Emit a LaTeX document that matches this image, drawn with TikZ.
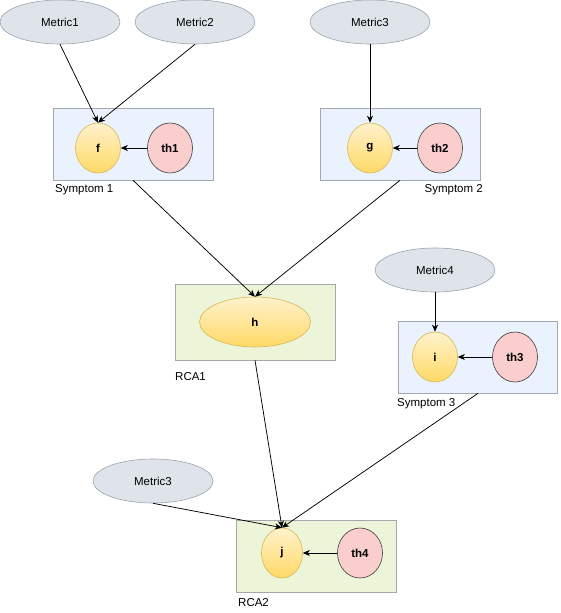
\documentclass[tikz,border=0pt]{standalone}
\usepackage{fontspec}
\setmainfont{Liberation Sans}
\usetikzlibrary{
    arrows.meta,
    shapes,
}
\definecolor{metricfill}{HTML}{DEE4EA}
\definecolor{metricdraw}{HTML}{9AA4AE}
\definecolor{symfill}{HTML}{EAF3FD}
\definecolor{rcafill}{HTML}{ECF5D8}
\definecolor{groupdraw}{HTML}{A2A8AE}
\definecolor{fntop}{HTML}{FFF2CC}
\definecolor{fnbot}{HTML}{FFD966}
\definecolor{fndraw}{HTML}{D6B656}
\definecolor{thfill}{HTML}{F9CECC}
\definecolor{thdraw}{HTML}{3A3A3A}

\begin{document}
\begin{tikzpicture}[
        x=1pt, y=-1pt,
        >={Stealth[length=7pt, width=6pt, inset=2pt]},
        font=\fontsize{11.5}{13}\selectfont,
        metric/.style={ellipse, draw=metricdraw, fill=metricfill, line width=0.6pt, minimum width=120pt, minimum height=44pt, inner sep=0pt},
        symgroup/.style={rectangle, draw=groupdraw, fill=symfill, line width=0.6pt, minimum width=160pt, minimum height=72pt},
        rcagroup/.style={rectangle, draw=groupdraw, fill=rcafill, line width=0.6pt, minimum width=160pt, minimum height=72pt},
        func/.style={ellipse, draw=fndraw, top color=fntop, bottom color=fnbot, line width=0.6pt, minimum width=45pt, minimum height=50pt, inner sep=0pt, font=\fontsize{11.5}{13}\selectfont\bfseries},
        thresh/.style={ellipse, draw=thdraw, fill=thfill, line width=0.6pt, minimum width=45pt, minimum height=50pt, inner sep=0pt, font=\fontsize{11.5}{13}\selectfont\bfseries},
        grouplabel/.style={inner sep=0pt},
        link/.style={->, line width=0.75pt},
        ]
        \useasboundingbox (0,0) rectangle (560,613);
        % metrics
        \node[metric] (M1)  at (60,22)   {Metric1};
        \node[metric] (M2)  at (195,22)  {Metric2};
        \node[metric] (M3)  at (370,22)  {Metric3};
        \node[metric] (M4)  at (435,270) {Metric4};
        \node[metric] (M3b) at (153,481) {Metric3};
        % groups
        \node[symgroup] (SYM1) at (133,144) {};
        \node[symgroup] (SYM2) at (400,144) {};
        \node[rcagroup, minimum height=76pt] (RCA1) at (255,322) {};
        \node[symgroup, minimum width=159pt] (SYM3) at (478,357) {};
        \node[rcagroup] (RCA2) at (316,556) {};
        \node[grouplabel, anchor=west] (LSYM1) at (55,190)  {Symptom 1};
        \node[grouplabel, anchor=east] (LSYM2) at (483,190) {Symptom 2};
        \node[grouplabel, anchor=west] (LRCA1) at (175,377) {RCA1};
        \node[grouplabel, anchor=west] (LSYM3) at (397,404) {Symptom 3};
        \node[grouplabel, anchor=west] (LRCA2) at (238,603) {RCA2};
        % functions and thresholds
        \node[func]   (F)   at (98,148)  {f};
        \node[thresh] (TH1) at (170,148) {th1};
        \node[func]   (G)   at (370,148) {g};
        \node[thresh] (TH2) at (440,148) {th2};
        \node[func, minimum width=111pt] (H) at (255,322) {h};
        \node[func]   (I)   at (435,357) {i};
        \node[thresh] (TH3) at (515,357) {th3};
        \node[func, minimum width=41pt] (J) at (282,553) {j};
        \node[thresh] (TH4) at (360,553) {th4};
        % connectors
        \draw[link] (M1.south) -- (F.north);
        \draw[link] (M2.south) -- (F.north);
        \draw[link] (TH1) -- (F);
        \draw[link] (M3.south) -- (G.north);
        \draw[link] (TH2) -- (G);
        \draw[link] (SYM1.south) -- (H.north);
        \draw[link] (SYM2.south) -- (H.north);
        \draw[link] (M4.south) -- (I.north);
        \draw[link] (TH3) -- (I);
        \draw[link] (RCA1.south) -- (J.north);
        \draw[link] (SYM3.south) -- (J.north);
        \draw[link] (M3b.south) -- (J.north);
        \draw[link] (TH4) -- (J);
    \end{tikzpicture}
\end{document}
